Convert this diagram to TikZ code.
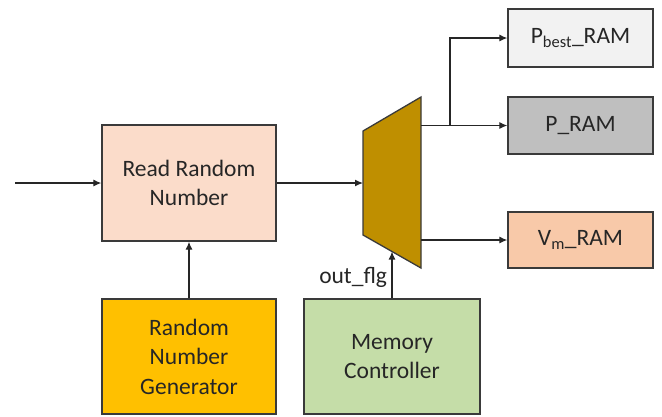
\documentclass[tikz,border=0pt]{standalone}
\usepackage{fontspec}
\setmainfont{Carlito}
\usetikzlibrary{arrows.meta}

\definecolor{readfill}{HTML}{FBDCCA}
\definecolor{rngfill}{HTML}{FFC000}
\definecolor{ctrlfill}{HTML}{C5DDA8}
\definecolor{bestfill}{HTML}{F2F2F2}
\definecolor{pramfill}{HTML}{BFBFBF}
\definecolor{vmfill}{HTML}{F8C9A9}
\definecolor{muxfill}{HTML}{BF8F00}
\definecolor{edge}{HTML}{3A3A3A}

\tikzset{
  blockbox/.style={draw=edge, line width=1.3pt, align=center, inner sep=2pt,
    font=\fontsize{23.5}{29.5}\selectfont, text=black!85},
  wire/.style={line width=1.2pt, draw=black!85, -{Latex[length=8pt,width=7pt]}}
}

\begin{document}
\begin{tikzpicture}[x=1pt, y=-1pt]
    \useasboundingbox (0,0) rectangle (662,416);

    % Blocks
    \node[blockbox, fill=readfill, minimum width=174pt, minimum height=116pt] (read) at (189,183) {Read Random\\Number};
    \node[blockbox, fill=rngfill, minimum width=174pt, minimum height=115pt] (rng) at (189,356.5) {Random\\Number\\Generator};
    \node[blockbox, fill=ctrlfill, minimum width=176pt, minimum height=115pt] (ctrl) at (392,356.5) {Memory\\Controller};

    % RAMs
    \node[blockbox, fill=bestfill, minimum width=145pt, minimum height=58pt] (pbest) at (580.5,38) {P\textsubscript{best}\_RAM};
    \node[blockbox, fill=pramfill, minimum width=145pt, minimum height=57pt] (pram) at (580.5,125.5) {P\_RAM};
    \node[blockbox, fill=vmfill, minimum width=145pt, minimum height=56pt] (vmram) at (580.5,240) {V\textsubscript{m}\_RAM};

    % Mux
    \filldraw[fill=muxfill, draw=edge, line width=1.3pt]
      (363,131) -- (421,97) -- (421,268) -- (363,235) -- cycle;
    \coordinate (muxin) at (363,183);
    \coordinate (muxa) at (421,125.5);
    \coordinate (muxb) at (421,240);
    \coordinate (muxsel) at (392,251.5);
    \coordinate (src) at (15,183);
    \coordinate (split) at (450,125.5);

    % Connections
    \draw[wire] (src) -- (read.west);
    \draw[wire] (rng.north) -- (read.south);
    \draw[wire] (read.east) -- (muxin);
    \draw[wire] (ctrl.north) -- (muxsel) node[pos=0.45, left=1pt, font=\fontsize{23.5}{28}\selectfont, text=black!85] (flg) {out\_flg};
    \draw[wire] (muxa) -- (pram.west);
    \draw[wire] (split) |- (pbest.west);
    \draw[wire] (muxb) -- (vmram.west);
\end{tikzpicture}
\end{document}
